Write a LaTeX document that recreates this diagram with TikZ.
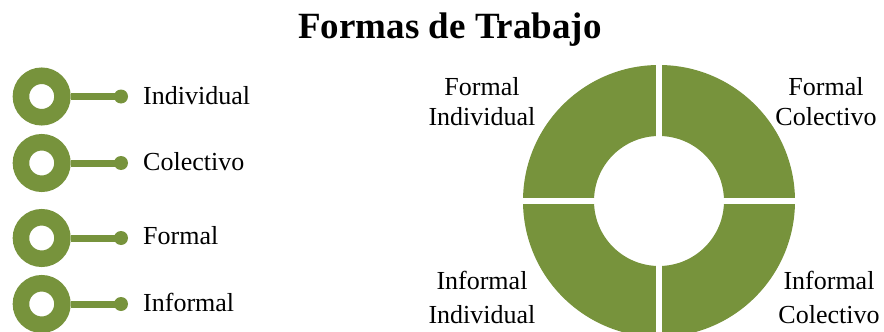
\documentclass[tikz,border=0pt]{standalone}
\usepackage{fontspec}
\setmainfont{Liberation Serif}
\definecolor{olive}{RGB}{119,147,60}
\begin{document}
\begin{tikzpicture}[x=1pt,y=-1pt,
  lbl/.style={font=\fontsize{26}{30}\selectfont, inner sep=0pt},
  dlbl/.style={font=\fontsize{26}{30}\selectfont, inner sep=0pt, align=center},
  dlblb/.style={font=\fontsize{26}{34}\selectfont, inner sep=0pt, align=center},
  ring/.style={draw=olive, line width=16.5pt, circle, minimum size=41.5pt, inner sep=0pt, fill=white},
  stem/.style={draw=olive, line width=7pt},
  dotn/.style={fill=olive, circle, minimum size=14pt, inner sep=0pt}]
\useasboundingbox (0,0) rectangle (884,332);
% title
\node[font=\fontsize{37}{40}\selectfont\bfseries, anchor=base, inner sep=0pt] (title) at (450,38) {Formas de Trabajo};
% left list
\foreach \n/\y/\t/\tb in {a/96.5/Individual/104, b/163/Colectivo/170, c/238/Formal/244, d/304/Informal/311}{
  \node[dotn] (dot\n) at (121,\y) {};
  \node[ring] (ring\n) at (41.7,\y) {};
  \draw[stem] (ring\n.east) -- (dot\n.center);
  \node[lbl, anchor=base west] (txt\n) at (143,\tb) {\t};
}
% donut
\coordinate (c) at (659,201);
\fill[olive, even odd rule] (c) circle[radius=136] (c) circle[radius=65];
\draw[white, line width=6pt] ([yshift=-140]c) -- ([yshift=-64]c);
\draw[white, line width=6pt] ([yshift=140]c) -- ([yshift=64]c);
\draw[white, line width=6pt] ([xshift=-140]c) -- ([xshift=-64]c);
\draw[white, line width=6pt] ([xshift=140]c) -- ([xshift=64]c);
\node[dlbl, anchor=base] (fi) at (482,125) {Formal\\Individual};
\node[dlbl, anchor=base] (fc) at (826,125) {Formal\\Colectivo};
\node[dlblb, anchor=base] (ii) at (482,323.5) {Informal\\Individual};
\node[dlblb, anchor=base] (ic) at (829,323) {Informal\\Colectivo};
\end{tikzpicture}
\end{document}
